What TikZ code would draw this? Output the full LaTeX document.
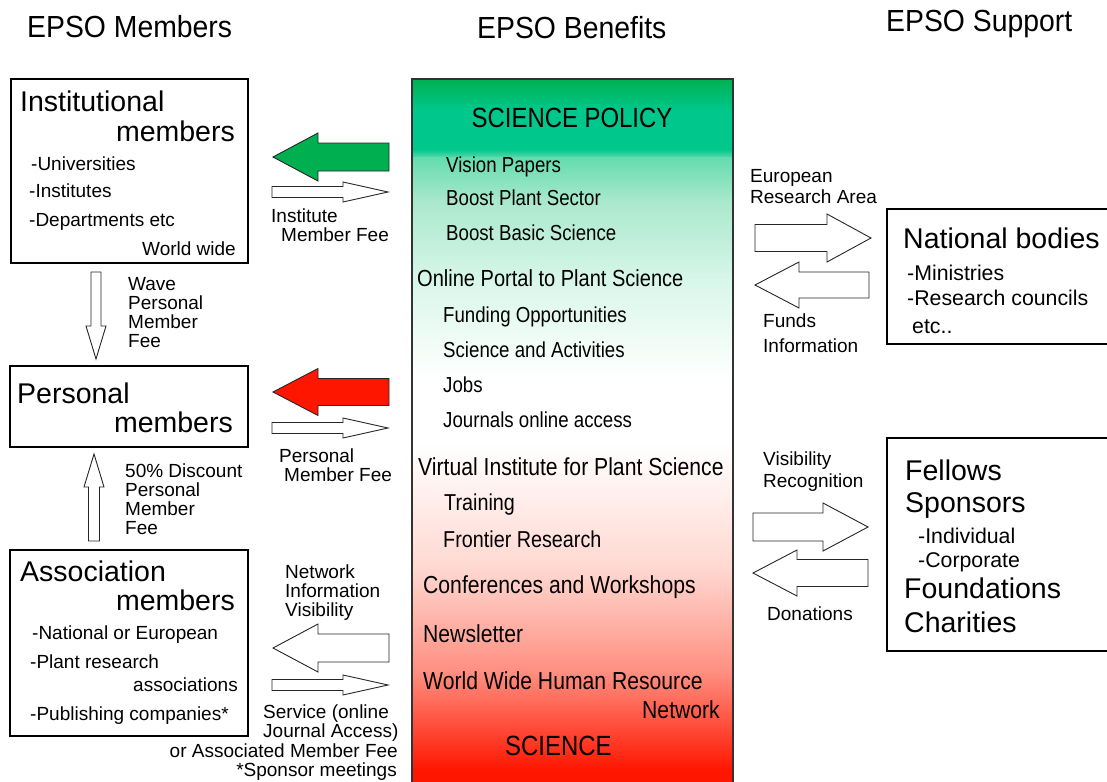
\documentclass[tikz,border=0pt]{standalone}
\usepackage{fontspec}
\setmainfont{Liberation Sans}
\newfontfamily\narrowfont[FakeStretch=0.86]{Liberation Sans}
\newfontfamily\titlefont[FakeStretch=0.93]{Liberation Sans}
\definecolor{epsogreen}{RGB}{0,176,80}
\definecolor{epsoteal}{RGB}{0,200,140}
\definecolor{epsojade}{RGB}{100,220,175}
\definecolor{epsomint}{RGB}{168,232,204}
\definecolor{epsopale}{RGB}{216,246,234}
\definecolor{epsofoam}{RGB}{240,252,246}
\definecolor{epsored}{RGB}{255,22,0}
\definecolor{epsosalmon}{RGB}{255,140,125}
\definecolor{epsopink}{RGB}{255,215,208}
\tikzset{
    titolo/.style={anchor=base west, inner sep=0pt, font=\titlefont\fontsize{30.5}{30.5}\selectfont},
    riquadro/.style={draw, line width=1.6pt},
    grande/.style={anchor=base west, inner sep=0pt, font=\fontsize{28.5}{28.5}\selectfont},
    voce/.style={anchor=base west, inner sep=0pt, font=\fontsize{19}{19}\selectfont},
    voceb/.style={anchor=base west, inner sep=0pt, font=\fontsize{21.3}{21.3}\selectfont},
    sezione/.style={anchor=base, inner sep=0pt, font=\narrowfont\fontsize{27.8}{27.8}\selectfont},
    area/.style={anchor=base west, inner sep=0pt, font=\narrowfont\fontsize{24.6}{24.6}\selectfont},
    sotto/.style={anchor=base west, inner sep=0pt, font=\narrowfont\fontsize{21.7}{21.7}\selectfont},
    freccia/.style={draw=black!85, line width=0.9pt, line join=miter}
}
\begin{document}
\begin{tikzpicture}[x=1pt, y=-1pt]
        % Riquadro della pagina
        \useasboundingbox (0,0) rectangle (1107,781);
        \clip (0,0) rectangle (1107,781);

        % Intestazioni
        \node[titolo] (hmem) at (27,38) {EPSO Members};
        \node[titolo] (hben) at (477,39) {EPSO Benefits};
        \node[titolo] (hsup) at (886,32) {EPSO Support};

        % Colonna centrale sfumata, a fasce
        \foreach \ya/\yb/\ca/\cb in {79/110/epsogreen/epsoteal, 110/150/epsoteal/epsoteal,
            150/158/epsoteal/epsojade, 158/200/epsojade/epsomint, 200/280/epsomint/epsopale,
            280/340/epsopale/epsofoam, 340/380/epsofoam/white, 380/445/white/white,
            445/570/white/epsopink, 570/675/epsopink/epsosalmon,
            675/770/epsosalmon/epsored, 770/790/epsored/epsored}{
            \shade[top color=\ca, bottom color=\cb] (412,\ya-0.6) rectangle (733,\yb+0.6);
        }
        \draw[line width=1.8pt, black!80] (412,790) -- (412,79) -- (733,79) -- (733,790);

        % Riquadri dei membri e del supporto
        \draw[riquadro] (11,79) rectangle (248,263);
        \draw[riquadro] (10,366) rectangle (248,447);
        \draw[riquadro] (10,550) rectangle (248,736);
        \draw[riquadro] (887,209) rectangle (1120,344);
        \draw[riquadro] (887,438) rectangle (1120,651);

        % Frecce orizzontali: punta/base punta/coda/y/mezzo gambo/mezza punta/colore
        \foreach \xa/\xb/\xc/\y/\h/\H/\col in {273/318/389/157/14/24/epsogreen, 388/343/272/192/5.5/10/white,
            273/318/389/392/13.5/23.5/epsored, 388/343/272/428/5.5/10/white,
            273/318/389/648/14/24/white, 388/343/272/685/5.5/10/white,
            871/827/755/238/13.5/24/white, 755/799/869/285/13/23/white,
            868/823/753/527/14/24/white, 753/797/868/573/13.5/23/white}{
            \filldraw[freccia, fill=\col] (\xa,\y) -- (\xb,\y-\H) -- (\xb,\y-\h) -- (\xc,\y-\h)
                -- (\xc,\y+\h) -- (\xb,\y+\h) -- (\xb,\y+\H) -- cycle;
        }
        % Frecce verticali
        \foreach \x/\ya/\yb/\yc/\h/\H in {96/359/326/272/5/10, 94/454/487/541/5.5/10}{
            \filldraw[freccia, fill=white] (\x,\ya) -- (\x+\H,\yb) -- (\x+\h,\yb) -- (\x+\h,\yc)
                -- (\x-\h,\yc) -- (\x-\h,\yb) -- (\x-\H,\yb) -- cycle;
        }

        % Membri istituzionali
        \node[grande] (inst) at (20,112) {Institutional};
        \node[grande, anchor=base east] (instm) at (235,141) {members};
        \foreach \t/\x/\y [count=\i] in {{-Universities}/31/170, {-Institutes}/29/197, {-Departments etc}/29/226}
            \node[voce] (inst\i) at (\x,\y) {\t};
        \node[voce, anchor=base east] (instw) at (236,255) {World wide};
        \node[voce] (instf1) at (271,222) {Institute};
        \node[voce] (instf2) at (281,241) {Member Fee};
        \foreach \t [count=\i] in {Wave, Personal, Member, Fee}
            \node[voce] (wave\i) at (128,290+19.3*\i-19.3) {\t};

        % Membri personali
        \node[grande] (pers) at (17,403) {Personal};
        \node[grande, anchor=base east] (persm) at (233,432) {members};
        \node[voce] (persf1) at (279,462) {Personal};
        \node[voce] (persf2) at (284,481) {Member Fee};
        \foreach \t [count=\i] in {50\% Discount, Personal, Member, Fee}
            \node[voce] (disc\i) at (125,477+19.3*\i-19.3) {\t};

        % Membri associati
        \node[grande] (asso) at (20,581) {Association};
        \node[grande, anchor=base east] (assom) at (235,610) {members};
        \node[voce] (asso1) at (32,639) {-National or European};
        \node[voce] (asso2) at (30,668) {-Plant research};
        \node[voce, anchor=base east] (asso3) at (238,691) {associations};
        \node[voce] (asso4) at (30,720) {-Publishing companies*};
        \foreach \t [count=\i] in {Network, Information, Visibility}
            \node[voce] (net\i) at (285,578+19.3*\i-19.3) {\t};
        \node[voce] (serv1) at (263,718) {Service (online};
        \node[voce] (serv2) at (263,737) {Journal Access)};
        \node[voce, anchor=base east] (serv3) at (398,757) {or Associated Member Fee};
        \node[voce, anchor=base east] (serv4) at (397,776) {*Sponsor meetings};

        % Benefici
        \node[sezione] (pol) at (572,128) {SCIENCE POLICY};
        \foreach \t/\y [count=\i] in {Vision Papers/172, Boost Plant Sector/205, Boost Basic Science/240}
            \node[sotto] (pol\i) at (446,\y) {\t};
        \node[area, font=\narrowfont\fontsize{23.3}{23.3}\selectfont] (portal) at (417,286) {Online Portal to Plant Science};
        \foreach \t/\y [count=\i] in {Funding Opportunities/322, Science and Activities/357, Jobs/392, Journals online access/427}
            \node[sotto] (portal\i) at (443,\y) {\t};
        \node[area] (virt) at (418,475) {Virtual Institute for Plant Science};
        \node[sotto, font=\narrowfont\fontsize{23}{23}\selectfont] (virt1) at (444,510) {Training};
        \node[sotto, font=\narrowfont\fontsize{23}{23}\selectfont] (virt2) at (443,547) {Frontier Research};
        \node[area] (conf) at (423,593) {Conferences and Workshops};
        \node[area] (news) at (423,642) {Newsletter};
        \node[area] (hr) at (423,689) {World Wide Human Resource};
        \node[area, anchor=base east] (hrn) at (720,718) {Network};
        \node[sezione, anchor=base west] (sci) at (505,755) {SCIENCE};

        % Organismi nazionali
        \node[voce] (era1) at (750,182) {European};
        \node[voce] (era2) at (750,203) {Research Area};
        \node[voce] (fund1) at (763,327) {Funds};
        \node[voce] (fund2) at (763,352) {Information};
        \node[grande] (naz) at (903,248) {National bodies};
        \node[voceb] (naz1) at (907,280) {-Ministries};
        \node[voceb] (naz2) at (907,305) {-Research councils};
        \node[voceb] (naz3) at (912,333) {etc..};

        % Sostenitori
        \node[voce] (vis1) at (763,465) {Visibility};
        \node[voce] (vis2) at (763,487) {Recognition};
        \node[voce] (don) at (767,620) {Donations};
        \node[grande] (fell) at (905,480) {Fellows};
        \node[grande] (spon) at (905,512) {Sponsors};
        \node[voceb] (spon1) at (918,543) {-Individual};
        \node[voceb] (spon2) at (918,567) {-Corporate};
        \node[grande] (found) at (904,598) {Foundations};
        \node[grande] (char) at (904,632) {Charities};
    \end{tikzpicture}
\end{document}
